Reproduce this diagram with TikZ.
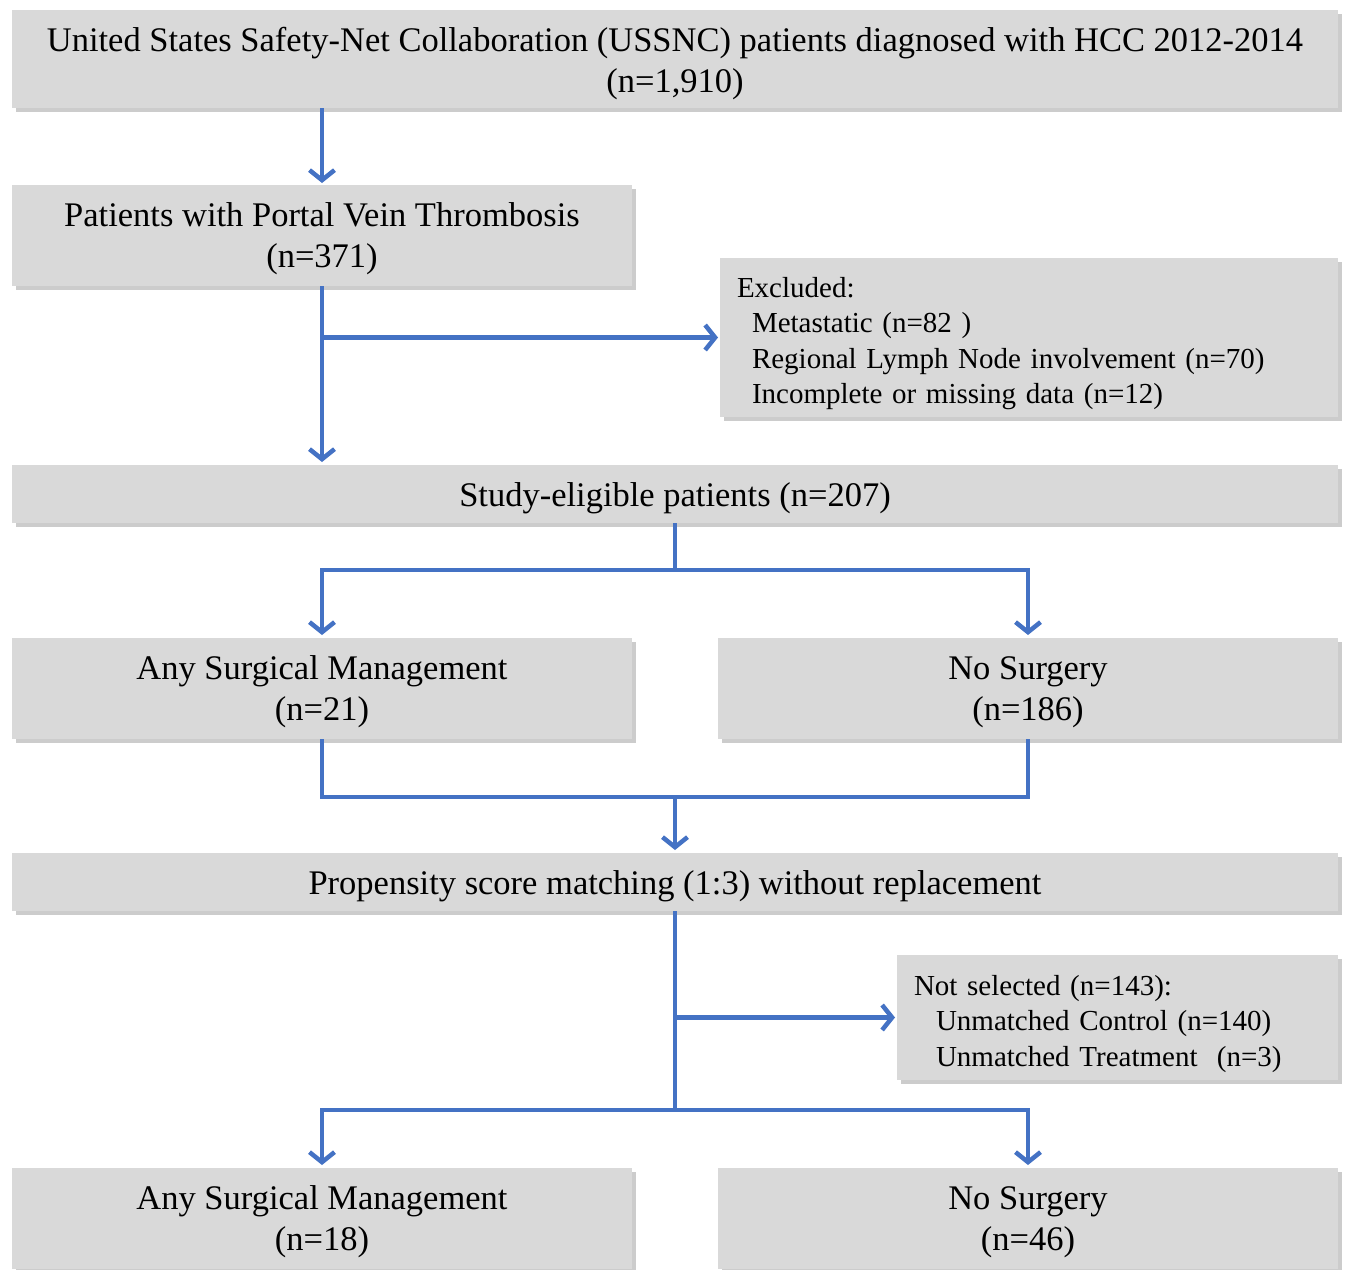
\documentclass[tikz,border=0pt]{standalone}
\usepackage{fontspec}
\setmainfont{Liberation Serif}
\usetikzlibrary{arrows.meta,shadows}
\definecolor{flowblue}{HTML}{4472C4}
\definecolor{boxgray}{HTML}{D9D9D9}
\tikzset{
  topstrut/.style={execute at begin node={\rule{0pt}{#1}}},
  box/.style={fill=boxgray, inner sep=0pt, outer sep=0pt, anchor=north west,
    align=center, font=\fontsize{34.5}{41}\selectfont, topstrut=32.5pt,
    drop shadow={shadow xshift=4pt, shadow yshift=-4pt, opacity=.4}},
  wide/.style={box, minimum width=1326pt},
  half/.style={box, minimum width=620pt, minimum height=101pt, topstrut=71pt},
  listbox/.style={box, align=left, inner xsep=17pt,
    font=\fontsize{29}{35.5}\selectfont, topstrut=25pt},
  arrow/.style={-{Straight Barb[length=10pt,width=25pt]}, line width=4.5pt, draw=flowblue},
  link/.style={line width=4.5pt, draw=flowblue}
}
\begin{document}
\begin{tikzpicture}[x=1pt,y=-1pt]
  \useasboundingbox (0,0) rectangle (1351,1269);

  \node[wide,minimum height=98pt,topstrut=74.5pt] (ussnc) at (12,10)
    {United States Safety-Net Collaboration (USSNC) patients diagnosed with HCC 2012-2014\\(n=1,910)};
  \node[half] (pvt) at (12,185) {Patients with Portal Vein Thrombosis\\(n=371)};
  \node[listbox,text width=584pt,minimum height=159pt] (excl) at (720,258)
    {Excluded:\\
     \hspace*{15pt}Metastatic (n=82 )\\
     \hspace*{15pt}Regional Lymph Node involvement (n=70)\\
     \hspace*{15pt}Incomplete or missing data (n=12)};
  \node[wide,minimum height=58pt] (elig) at (12,465) {Study-eligible patients (n=207)};

  \node[half] (surg) at (12,638) {Any Surgical Management\\(n=21)};
  \node[half] (nosurg) at (718,638) {No Surgery\\(n=186)};

  \node[wide,minimum height=58pt] (psm) at (12,853)
    {Propensity score matching (1:3) without replacement};
  \node[listbox,text width=407pt,minimum height=125pt] (unsel) at (897,955)
    {Not selected (n=143):\\
     \hspace*{22pt}Unmatched Control (n=140)\\
     \hspace*{22pt}Unmatched Treatment\ \ (n=3)};

  \node[half] (surgm) at (12,1168) {Any Surgical Management\\(n=18)};
  \node[half] (nosurgm) at (718,1168) {No Surgery\\(n=46)};

  % selection
  \draw[arrow] (pvt.north |- ussnc.south) -- ([yshift=2pt]pvt.north);
  \draw[arrow] (pvt.south) -- ([yshift=3pt]elig.north -| pvt.south);
  \draw[arrow] (pvt.south |- excl.west) -- ([xshift=-2pt]excl.west);

  % split by treatment
  \draw[link] (elig.south) -- ++(0,47) coordinate (fork1);
  \draw[arrow] (fork1) -| ([yshift=3pt]surg.north);
  \draw[arrow] (fork1) -| ([yshift=3pt]nosurg.north);

  % merge for matching
  \draw[link] (surg.south) -- ++(0,58) coordinate (join1) -| (nosurg.south);
  \draw[arrow] (join1 -| psm.north) -- ([yshift=3pt]psm.north);

  % matched cohort
  \draw[link] (psm.south) -- ++(0,199) coordinate (fork2);
  \draw[arrow] (psm.south |- unsel.west) -- ([xshift=-2pt]unsel.west);
  \draw[arrow] (fork2) -| ([yshift=3pt]surgm.north);
  \draw[arrow] (fork2) -| ([yshift=3pt]nosurgm.north);
\end{tikzpicture}
\end{document}
